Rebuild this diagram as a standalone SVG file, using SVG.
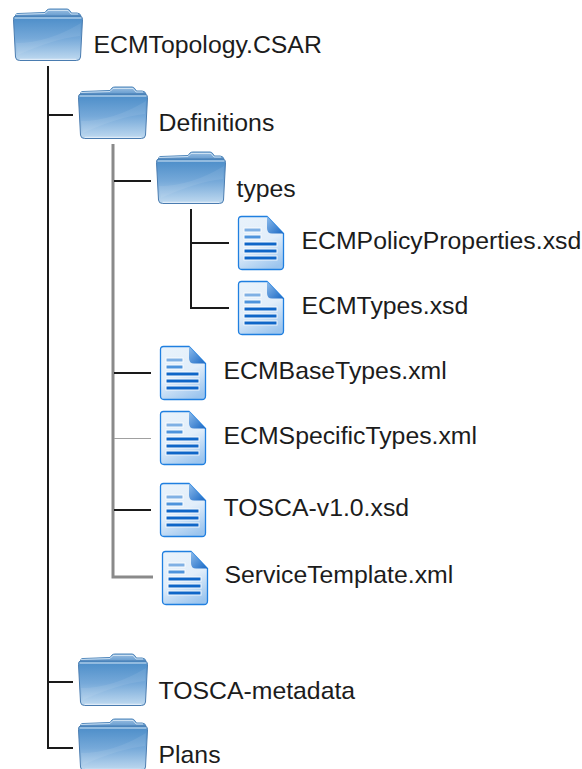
<svg xmlns="http://www.w3.org/2000/svg" width="582" height="769" viewBox="0 0 582 769">
<style>
text{font-family:"Liberation Sans",Arial,sans-serif;font-size:24.8px;fill:#1c1c1c}
.k{stroke:#1a1a1a;stroke-width:2;fill:none}
.g{stroke:#8a8a8a;stroke-width:3;fill:none}
.t{stroke:#a0a0a0;stroke-width:1;fill:none}
</style>
<defs>
<linearGradient id="fb" x1="0" y1="0" x2="0" y2="1"><stop offset="0" stop-color="#4a8cc8"/><stop offset="0.5" stop-color="#76a9d9"/><stop offset="1" stop-color="#c0daf0"/></linearGradient>
<linearGradient id="fk" x1="0" y1="0" x2="0" y2="1"><stop offset="0" stop-color="#9dc0e2"/><stop offset="1" stop-color="#5e97cd"/></linearGradient>
<linearGradient id="dp" x1="0.300" y1="0" x2="0.700" y2="1"><stop offset="0" stop-color="#e8f2fb"/><stop offset="0.5" stop-color="#e2eefa"/><stop offset="1" stop-color="#9cc5ee"/></linearGradient>
<linearGradient id="dc" x1="0" y1="0" x2="1" y2="1"><stop offset="0" stop-color="#8fbdec"/><stop offset="1" stop-color="#1a68c4"/></linearGradient>
<symbol id="folder" width="70" height="52" viewBox="0 0 70 52" overflow="visible">
<path d="M3 5.500Q3 4.500 5 4.500L32 3.500L34 1Q35 0 37 0H54Q56 0 57 2L58.500 4H64Q67 4 68 7L30 8H2Z" fill="url(#fk)" stroke="#4f86ba" stroke-width="1"/>
<path d="M3 5.500L32 4.500L35 1.500H55L58 5H65" fill="none" stroke="#dcebf7" stroke-width="0.800"/>
<path d="M2.500 7H66.500Q69.500 7 69.500 10.500L67.500 48Q67.300 51.500 63.500 51.500H6.500Q2.800 51.500 2.500 48L0.500 10.500Q0.500 7 2.500 7Z" fill="url(#fb)" stroke="#4a7cb0" stroke-width="1"/>
<path d="M1.500 9H68.500" stroke="#d8e8f5" stroke-width="1"/>
<path d="M68 14L67 27Q40 30 5 46L3 34Q35 34 68 14Z" fill="#fff" opacity="0.080"/>
<path d="M7 50.300H63" stroke="#e6f1fa" stroke-width="1"/>
</symbol>
<symbol id="doc" width="46" height="54" viewBox="0 0 46 54" overflow="visible">
<path d="M3.500 .5H29L45.500 17.500V50Q45.500 53.500 42 53.500H4Q.5 53.500 .5 50V3.500Q.5 .5 3.500 .5Z" fill="url(#dp)" stroke="#1f7fe0" stroke-width="1.300"/>
<path d="M29 .5V12Q29 17.500 34 17.500H45.500Z" fill="url(#dc)"/>
<g fill="#fff" opacity="0.800">
<rect x="5.500" y="11.500" width="18" height="5"/><rect x="5.500" y="18.500" width="18" height="5"/>
<rect x="5.500" y="25.500" width="34" height="5"/><rect x="5.500" y="32.500" width="34" height="5"/><rect x="5.500" y="39.500" width="34" height="5"/>
</g>
<g fill="#0f66c8">
<rect x="6.500" y="12.500" width="16" height="3" fill="#7fb0e4"/>
<rect x="6.500" y="19.500" width="16" height="3" fill="#4d93dc"/>
<rect x="6.500" y="26.500" width="32" height="3"/>
<rect x="6.500" y="33.500" width="32" height="3"/>
<rect x="6.500" y="40.500" width="32" height="3"/>
</g>
</symbol>
</defs>
<g id="connectors">
<path class="k" d="M48 66V748H73M48 115H73M48 682H73"/>
<path class="g" d="M113 144V577H153"/>
<path class="k" d="M114 181H151M114 373H151M114 510H151"/>
<path class="t" d="M114 438.500H151"/>
<path class="k" d="M191 209V308H229M191 243H229"/>
</g>
<g id="n-csar"><use href="#folder" x="13" y="9"/><text x="93.500" y="53">ECMTopology.CSAR</text></g>
<g id="n-definitions"><use href="#folder" x="78" y="87"/><text x="158.500" y="131">Definitions</text></g>
<g id="n-types"><use href="#folder" x="156" y="152"/><text x="236.500" y="197">types</text></g>
<g id="n-policy"><use href="#doc" x="238" y="216"/><text x="301.500" y="249">ECMPolicyProperties.xsd</text></g>
<g id="n-ecmtypes"><use href="#doc" x="238" y="281"/><text x="301.500" y="314">ECMTypes.xsd</text></g>
<g id="n-base"><use href="#doc" x="160" y="346"/><text x="223.500" y="379">ECMBaseTypes.xml</text></g>
<g id="n-specific"><use href="#doc" x="160" y="411"/><text x="223.500" y="444">ECMSpecificTypes.xml</text></g>
<g id="n-tosca"><use href="#doc" x="160" y="483"/><text x="223.500" y="516">TOSCA-v1.0.xsd</text></g>
<g id="n-service"><use href="#doc" x="162" y="551"/><text x="224.500" y="583">ServiceTemplate.xml</text></g>
<g id="n-metadata"><use href="#folder" x="78" y="654"/><text x="158.500" y="699">TOSCA-metadata</text></g>
<g id="n-plans"><use href="#folder" x="78" y="719"/><text x="158.500" y="763">Plans</text></g>
</svg>
